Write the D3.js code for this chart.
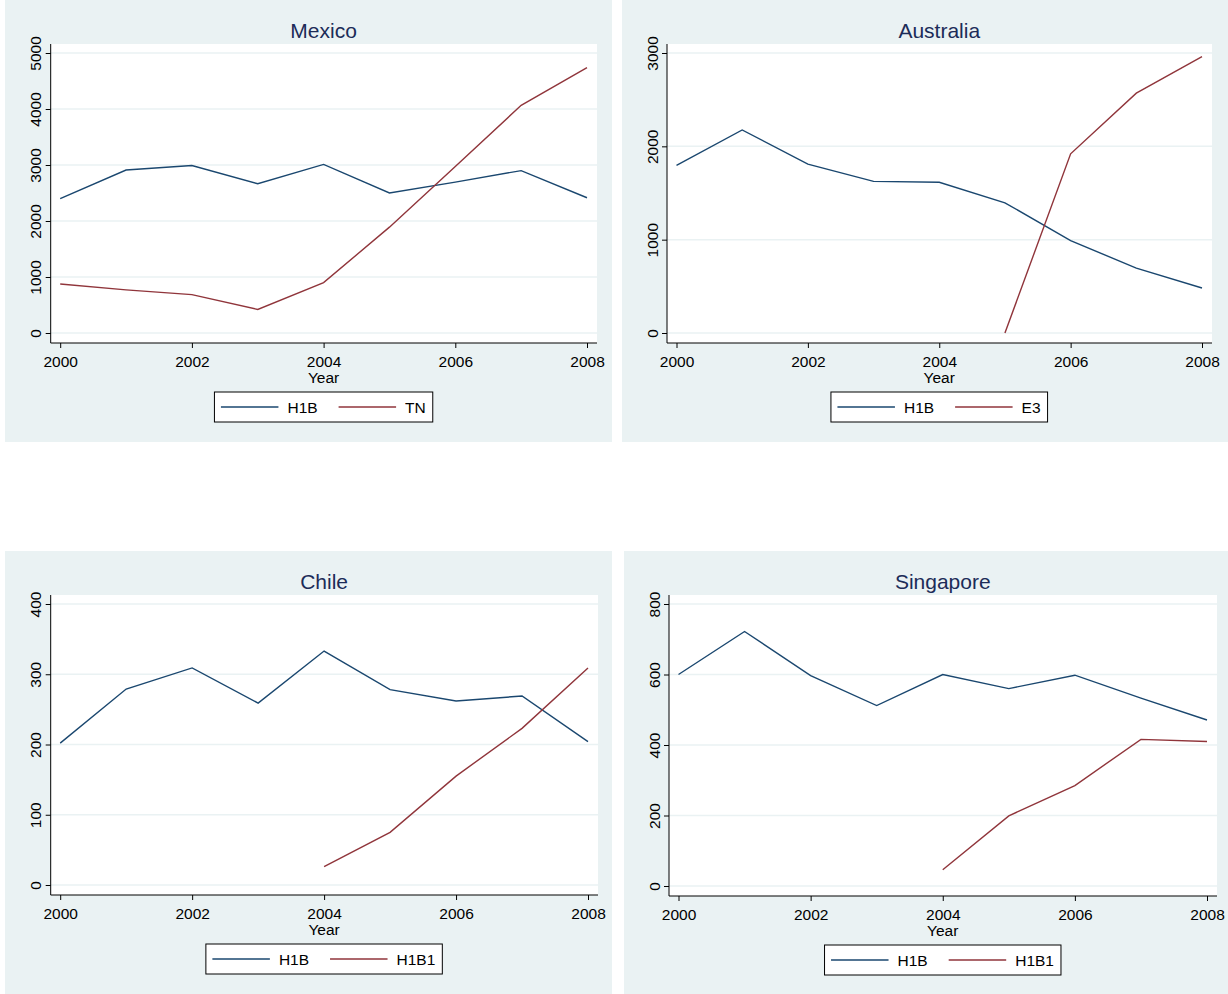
<!DOCTYPE html>
<html>
<head>
<meta charset="utf-8">
<script src="https://cdn.jsdelivr.net/npm/d3@7"></script>
<style>
  body { margin: 0; background: #fff; }
  svg { display: block; font-family: "Liberation Sans", Arial, sans-serif; }
</style>
</head>
<body>
<div id="chart"></div>
<script>
// data
const years = [2000, 2001, 2002, 2003, 2004, 2005, 2006, 2007, 2008];
const xTicks = [2000, 2002, 2004, 2006, 2008];

const mexicoH1B = [2400, 2910, 2990, 2665, 3010, 2500, 2695, 2900, 2415];
const mexicoTN = [875, 770, 685, 420, 900, 1890, 2975, 4065, 4740];
const mexicoTicks = [0, 1000, 2000, 3000, 4000, 5000];

const australiaH1B = [1795, 2175, 1810, 1625, 1615, 1395, 990, 695, 482];
const australiaE3 = [null, null, null, null, null, 0, 1920, 2570, 2960];
const australiaTicks = [0, 1000, 2000, 3000];

const chileH1B = [202, 279, 309, 259, 333, 278, 262, 269, 204];
const chileH1B1 = [null, null, null, null, 26, 75, 155, 223, 309];
const chileTicks = [0, 100, 200, 300, 400];

const singaporeH1B = [600, 722, 597, 512, 600, 560, 598, 533, 471];
const singaporeH1B1 = [null, null, null, null, 46, 199, 285, 416, 410];
const singaporeTicks = [0, 200, 400, 600, 800];

const navy = "#1a476f", maroon = "#90353b";

const panels = [
  { title: "Mexico", a: mexicoH1B, b: mexicoTN, bName: "TN", ticks: mexicoTicks,
    bg: [5, 0, 607, 442], left: 50.7, right: 597, top: 44, bottom: 343 },
  { title: "Australia", a: australiaH1B, b: australiaE3, bName: "E3", ticks: australiaTicks,
    bg: [622, 0, 606, 442], left: 667, right: 1212, top: 44, bottom: 343 },
  { title: "Chile", a: chileH1B, b: chileH1B1, bName: "H1B1", ticks: chileTicks,
    bg: [5, 551, 607, 443], left: 50.7, right: 598, top: 595, bottom: 895 },
  { title: "Singapore", a: singaporeH1B, b: singaporeH1B1, bName: "H1B1", ticks: singaporeTicks,
    bg: [624, 551, 604, 443], left: 669, right: 1217, top: 595, bottom: 896 }
];

const svg = d3.select("#chart").append("svg")
    .attr("width", 1228)
    .attr("height", 994);

panels.forEach(p => {
    const g = svg.append("g");

    g.append("rect")
        .attr("x", p.bg[0]).attr("y", p.bg[1])
        .attr("width", p.bg[2]).attr("height", p.bg[3])
        .attr("fill", "#eaf2f3");

    g.append("rect")
        .attr("x", p.left).attr("y", p.top)
        .attr("width", p.right - p.left).attr("height", p.bottom - p.top)
        .attr("fill", "#fff");

    const x = d3.scaleLinear().domain([2000, 2008]).range([p.left + 9.5, p.right - 10]);
    const y = d3.scaleLinear().domain([0, d3.max(p.ticks)]).range([p.bottom - 10, p.top + 9]);

    // gridlines
    g.append("g").selectAll("line")
        .data(p.ticks)
        .enter().append("line")
        .attr("x1", p.left).attr("x2", p.right)
        .attr("y1", d => y(d)).attr("y2", d => y(d))
        .attr("stroke", "#eaf2f3")
        .attr("stroke-width", 1.5);

    // y axis
    const yAxis = g.append("g")
        .attr("transform", `translate(${p.left},0)`)
        .call(d3.axisLeft(y).tickValues(p.ticks).tickFormat(d3.format("d")).tickSize(5).tickPadding(4).tickSizeOuter(0));
    yAxis.select(".domain").attr("d", `M0,${p.top}V${p.bottom}`).attr("stroke", "#000");
    yAxis.selectAll(".tick line").attr("stroke", "#000");
    yAxis.selectAll(".tick text")
        .attr("x", null).attr("dy", null)
        .attr("transform", "translate(-15,0) rotate(-90)")
        .attr("text-anchor", "middle")
        .attr("dominant-baseline", "central")
        .style("font-size", "15.5px")
        .attr("fill", "#000");

    // x axis
    const xAxis = g.append("g")
        .attr("transform", `translate(0,${p.bottom})`)
        .call(d3.axisBottom(x).tickValues(xTicks).tickFormat(d3.format("d")).tickSize(5).tickPadding(4).tickSizeOuter(0));
    xAxis.select(".domain").attr("d", `M${p.left},0H${p.right}`).attr("stroke", "#000");
    xAxis.selectAll(".tick line").attr("stroke", "#000");
    xAxis.selectAll(".tick text")
        .attr("y", 18).attr("dy", null)
        .attr("dominant-baseline", "central")
        .style("font-size", "15.5px")
        .attr("fill", "#000");

    const cx = (x(2000) + x(2008)) / 2;

    g.append("text")
        .attr("x", cx).attr("y", p.bottom + 34)
        .attr("text-anchor", "middle")
        .attr("dominant-baseline", "central")
        .style("font-size", "15.5px")
        .text("Year");

    g.append("text")
        .attr("x", cx).attr("y", p.top - 14)
        .attr("text-anchor", "middle")
        .attr("dominant-baseline", "central")
        .style("font-size", "21px")
        .attr("fill", "#1c2c58")
        .text(p.title);

    // lines
    const line = d3.line()
        .defined(d => d[1] != null)
        .x(d => x(d[0]))
        .y(d => y(d[1]));

    [[p.a, navy], [p.b, maroon]].forEach(([vals, col]) => {
        g.append("path")
            .datum(years.map((yr, i) => [yr, vals[i]]))
            .attr("d", line)
            .attr("fill", "none")
            .attr("stroke", col)
            .attr("stroke-width", 1.4);
    });

    // legend
    const lg = g.append("g");
    const box = lg.append("rect")
        .attr("fill", "#fff")
        .attr("stroke", "#000")
        .attr("stroke-width", 1);
    const items = [["H1B", navy], [p.bName, maroon]];
    let cur = 6.5;
    const ly = p.bottom + 64;
    items.forEach(([name, col], i) => {
        lg.append("line")
            .attr("x1", cur).attr("x2", cur + 57.5)
            .attr("y1", ly).attr("y2", ly)
            .attr("stroke", col).attr("stroke-width", 1.4);
        const t = lg.append("text")
            .attr("x", cur + 66.5).attr("y", ly)
            .attr("dominant-baseline", "central")
            .style("font-size", "15.5px")
            .text(name);
        cur = cur + 66.5 + t.node().getComputedTextLength() + (i === 0 ? 21 : 7);
    });
    box.attr("x", 0).attr("y", ly - 15).attr("width", cur).attr("height", 30);
    lg.attr("transform", `translate(${cx - cur / 2},0)`);
});
</script>
</body>
</html>
